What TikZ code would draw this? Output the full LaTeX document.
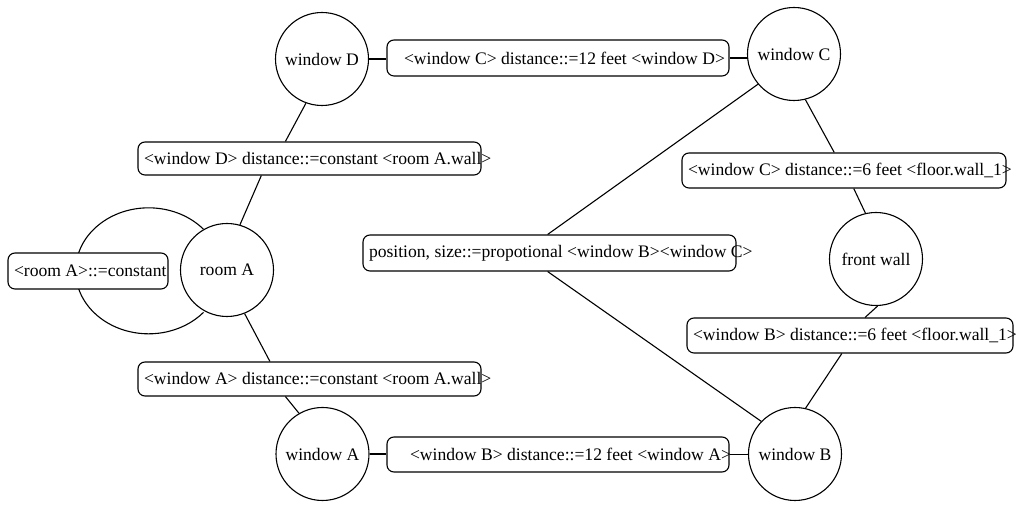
\documentclass[tikz,border=0pt]{standalone}
\usepackage{fontspec}
\setmainfont{Liberation Serif}
\usetikzlibrary{calc,backgrounds}
\begin{document}
\begin{tikzpicture}[x=1pt,y=1pt,
  every node/.style={font=\fontsize{17.6}{21}\selectfont},
  obj/.style={draw,circle,line width=1.1pt,minimum size=93pt,inner sep=0pt,fill=white},
  rel/.style={draw,rounded corners=7pt,line width=1.1pt,inner sep=0pt,fill=white},
  link/.style={line width=1.1pt}]
\useasboundingbox (0,0) rectangle (1021,508);
% text box of fixed width #1 with text starting #2 from its left edge
\newcommand{\reltext}[3]{\makebox[#1pt][l]{\hspace{#2pt}#3}}

% objects
\node[obj] (wD) at (322,449) {window D};
\node[obj] (wC) at (794,454) {window C};
\node[obj] (roomA) at (227,238) {room A};
\node[obj] (front) at (876,249) {front wall};
\node[obj] (wA) at (322.5,54) {window A};
\node[obj] (wB) at (795,54) {window B};

% relations
\node[rel,minimum height=36pt] (bDC) at (558,450)
  {\reltext{342}{17}{<window C> distance::=12 feet <window D>}};
\node[rel,minimum height=33pt] (bDR) at (309.5,349.5)
  {\reltext{343}{6}{<window D> distance::=constant <room A.wall>}};
\node[rel,minimum height=36pt] (bRC) at (88,237)
  {\reltext{160}{6}{<room A>::=constant}};
\node[rel,minimum height=34pt] (bAR) at (309.5,129)
  {\reltext{343}{6}{<window A> distance::=constant <room A.wall>}};
\node[rel,minimum height=35pt] (bBA) at (558,53.5)
  {\reltext{342}{23}{<window B> distance::=12 feet <window A>}};
\node[rel,minimum height=36pt] (bPos) at (549.5,255)
  {\reltext{373}{6}{position, size::=propotional <window B><window C>}};
\node[rel,minimum height=35pt] (bC6) at (844,337.5)
  {\reltext{324}{6}{<window C> distance::=6 feet <floor.wall\_1>}};
\node[rel,minimum height=35pt] (bB6) at (850,172.5)
  {\reltext{326}{6}{<window B> distance::=6 feet <floor.wall\_1>}};

% connectors
\draw[link] (wD.east) -- (wD.east -| bDC.west);
\draw[link] (bDC.east) -- (bDC.east -| wC.west);
\draw[link] (wD.250) -- ($(bDR.north west)!0.43!(bDR.north east)$);
\draw[link] ($(bDR.south west)!0.36!(bDR.south east)$) -- (roomA.74);
\draw[link] (roomA.292) -- ($(bAR.north west)!0.385!(bAR.north east)$);
\draw[link] ($(bAR.south west)!0.43!(bAR.south east)$) -- (wA.120);
\draw[link] (wA.east) -- (wA.east -| bBA.west);
\draw[link] (bBA.east) -- (bBA.east -| wB.west);
\draw[link] ($(bPos.north west)!0.495!(bPos.north east)$) -- (wC.220);
\draw[link] ($(bPos.south west)!0.495!(bPos.south east)$) -- (wB.136);
\draw[link] (wC.284) -- ($(bC6.north west)!0.47!(bC6.north east)$);
\draw[link] ($(bC6.south west)!0.53!(bC6.south east)$) -- (front.103);
\draw[link] (front.272) -- ($(bB6.north west)!0.546!(bB6.north east)$);
\draw[link] ($(bB6.south west)!0.475!(bB6.south east)$) -- (wB.77);
\begin{scope}[on background layer]
  \draw[link] (roomA.120) arc[start angle=41.3,end angle=318.7,x radius=73pt,y radius=63pt];
\end{scope}
\end{tikzpicture}
\end{document}
